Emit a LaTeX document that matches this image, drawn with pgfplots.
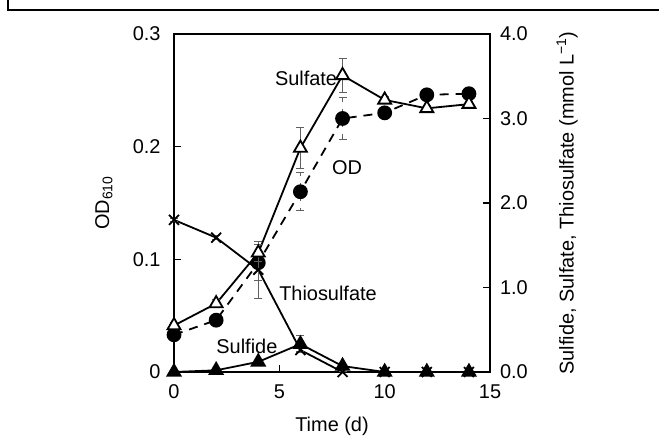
\documentclass[border=0pt]{standalone}
\usepackage{pgfplots}
\pgfplotsset{compat=1.18}
\usepackage{fontspec}
\setmainfont{Liberation Sans}
\newcommand\chartfont{\fontsize{20}{24}\selectfont}

% OD610 (left axis)
\pgfplotstableread{
t v e
0 0.033 0.002
2 0.046 0.003
4 0.097 0.016
6 0.160 0.017
8 0.225 0.019
10 0.230 0.004
12 0.246 0.002
14 0.247 0.002
}\od
% sulfate, mmol/L (right axis)
\pgfplotstableread{
t v e
0 0.55 0.03
2 0.81 0.05
4 1.41 0.10
6 2.65 0.24
8 3.51 0.20
10 3.22 0.04
12 3.12 0.03
14 3.17 0.03
}\sulfate
\pgfplotstableread{
t v e
0 1.80 0.02
2 1.59 0.02
4 1.21 0.34
6 0.26 0.02
8 0.00 0.00
10 0.00 0.00
12 0.00 0.00
14 0.00 0.00
}\thio
\pgfplotstableread{
t v e
0 0.00 0.00
2 0.02 0.00
4 0.12 0.01
6 0.33 0.10
8 0.07 0.01
10 0.00 0.00
12 0.00 0.00
14 0.00 0.00
}\sulfide

\begin{document}
\begin{tikzpicture}[x=1bp,y=1bp,font=\chartfont]
\path[use as bounding box] (0,0) rectangle (659,437);
\draw[line width=1.3bp] (8,437) -- (8,427) -- (659,427);

\pgfplotsset{
  base/.style={
    at={(174bp,65bp)}, anchor=south west,
    width=316bp, height=338bp, scale only axis,
    xmin=0, xmax=15, clip=false,
    tick align=inside, major tick length=7bp,
    axis line style={line width=1.3bp},
    every tick/.style={black, line width=1.3bp},
    tick label style={font=\chartfont},
    label style={font=\chartfont},
    /pgf/number format/assume math mode=true,
  },
  ebar/.style={error bars/.cd, y dir=both, y explicit,
    error bar style={gray!75!black, line width=1bp},
    error mark options={rotate=90, gray!75!black, mark size=4bp, line width=1bp}},
}

\begin{axis}[base,
  ymin=0, ymax=0.3,
  xtick={0,5,10,15}, xticklabels={0,5,10,15},
  ytick={0,0.1,0.2,0.3}, yticklabels={0,0.1,0.2,0.3},
  xtick pos=bottom, ytick pos=left,
  xticklabel style={yshift=-9bp},
  yticklabel style={xshift=-10bp},
  xlabel={Time (d)},
  ylabel={OD\textsubscript{610}},
  every axis x label/.style={at={(axis description cs:0.5,-0.16)}, anchor=center},
  every axis y label/.style={at={(axis description cs:-0.222,0.5)}, anchor=center, rotate=90},
]
\addplot[black, line width=1.8bp, dash pattern=on 9bp off 7bp,
  mark=*, mark size=6.5bp, mark options={solid, fill=black},
  ebar] table[x=t, y=v, y error=e] {\od};
\node[anchor=east, inner sep=0pt] at (axis cs:7.75,0.261) {Sulfate};
\node at (axis cs:8.21,0.181) {OD};
\node at (axis cs:7.31,0.070) {Thiosulfate};
\node at (axis cs:3.46,0.023) {Sulfide};
\end{axis}

\begin{axis}[base,
  ymin=0, ymax=4,
  axis x line=none, axis y line*=right,
  ytick={0,1,2,3,4}, yticklabels={0.0,1.0,2.0,3.0,4.0},
  yticklabel style={xshift=6.5bp},
  ylabel={Sulfide, Sulfate, Thiosulfate (mmol L\textsuperscript{−1})},
  every axis y label/.style={at={(axis description cs:1.244,0.5)}, anchor=center, rotate=90},
]
\addplot[black, line width=1.8bp, mark=x, mark size=7bp,
  ebar] table[x=t, y=v, y error=e] {\thio};
\addplot[black, line width=1.8bp, mark=triangle*, mark size=7.5bp,
  mark options={fill=black}, ebar] table[x=t, y=v, y error=e] {\sulfide};
\addplot[black, line width=1.8bp, mark=triangle*, mark size=7.5bp,
  mark options={fill=white}, ebar] table[x=t, y=v, y error=e] {\sulfate};
\end{axis}
\end{tikzpicture}
\end{document}
